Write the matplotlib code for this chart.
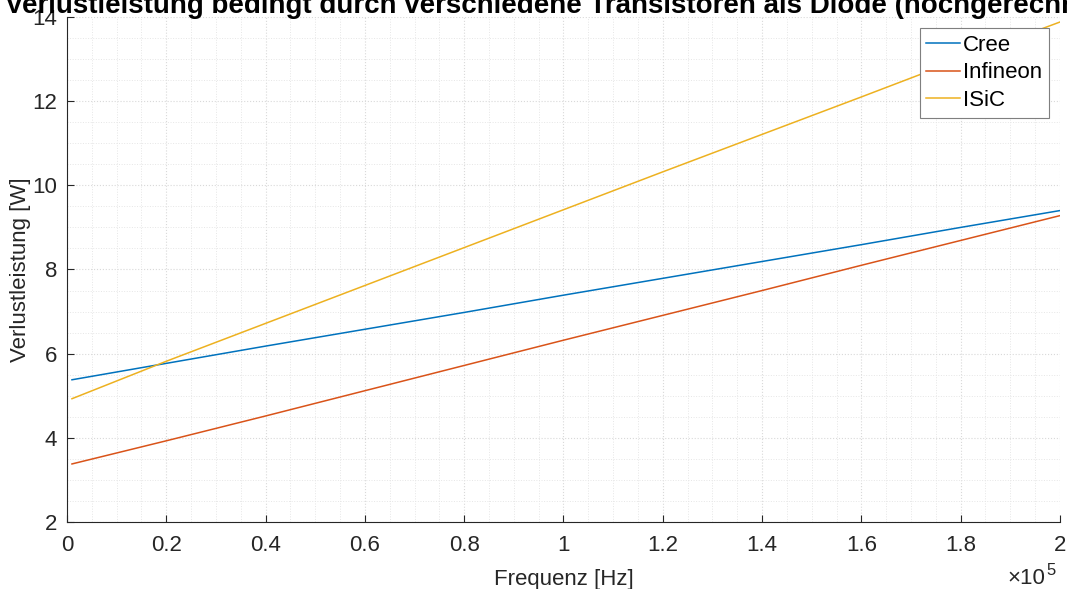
# Verlustleistung vs. Frequenz - MATLAB-style line chart
import matplotlib
matplotlib.use("Agg")
import matplotlib.pyplot as plt
from matplotlib.ticker import MultipleLocator, FuncFormatter

plt.rcParams['font.family'] = ['Liberation Sans', 'DejaVu Sans']

# -- DATA -------------------------------------------------------------------------
freq_hz = [1000, 20000, 40000, 60000, 80000, 100000, 120000, 140000, 160000, 180000, 200000]
cree = [5.38, 5.77, 6.18, 6.58, 6.98, 7.39, 7.79, 8.19, 8.59, 9.00, 9.40]
infineon = [3.38, 3.93, 4.52, 5.12, 5.72, 6.32, 6.91, 7.50, 8.10, 8.69, 9.28]
isic = [4.93, 5.82, 6.72, 7.62, 8.52, 9.42, 10.32, 11.21, 12.10, 13.00, 13.88]
series_names = ['Cree', 'Infineon', 'ISiC']
colors = ['#0072BD', '#D95319', '#EDB120']

title = 'Verlustleistung bedingt durch verschiedene Transistoren als Diode (hochgerechnet)'

# -- FIGURE -----------------------------------------------------------------------
fig = plt.figure(figsize=(10.67, 5.89), dpi=100)
ax = fig.add_axes([0.0628, 0.1137, 0.9306, 0.8575])

for vals, name, c in zip([cree, infineon, isic], series_names, colors):
    ax.plot(freq_hz, vals, color=c, lw=1.1, label=name)

ax.set_xlim(0, 2e5)
ax.set_ylim(2, 14)
ax.xaxis.set_major_locator(MultipleLocator(2e4))
ax.xaxis.set_minor_locator(MultipleLocator(5e3))
ax.yaxis.set_major_locator(MultipleLocator(2))
ax.yaxis.set_minor_locator(MultipleLocator(0.5))
ax.xaxis.set_major_formatter(FuncFormatter(lambda v, p: '%g' % round(v / 1e5, 2)))

# grid like MATLAB (major + minor, dotted)
ax.grid(which='major', color='#d9d9d9', linestyle=':', lw=0.8)
ax.grid(which='minor', color='#e6e6e6', linestyle=':', lw=0.7)
ax.set_axisbelow(True)

for s in ['top', 'right']:
    ax.spines[s].set_visible(False)
for s in ['left', 'bottom']:
    ax.spines[s].set_color('#262626')
    ax.spines[s].set_linewidth(0.8)
ax.tick_params(which='major', direction='in', length=5, width=0.8, colors='#262626',
               labelsize=16, labelcolor='#262626')
ax.tick_params(axis='x', which='major', pad=9)
ax.tick_params(axis='y', which='major', pad=7)
ax.tick_params(which='minor', length=0)

ax.set_xlabel('Frequenz [Hz]', fontsize=16, color='#262626', labelpad=10)
ax.set_ylabel('Verlustleistung [W]', fontsize=16, color='#262626', labelpad=1)

# exponent label bottom right, like MATLAB
fig.text(1045 / 1067, 0.5 / 589, '\u00d710', ha='right', va='bottom', fontsize=16, color='#262626')
fig.text(1046 / 1067, 11 / 589, '5', ha='left', va='bottom', fontsize=12, color='#262626')

ax.text(0.495, 1.008, title, transform=ax.transAxes, ha='center', va='baseline',
        fontsize=20, fontweight='bold', color='black')

leg = ax.legend(loc='upper right', fontsize=16, frameon=True, fancybox=False,
                edgecolor='#7f7f7f', framealpha=1, handlelength=1.5, handletextpad=0.15,
                borderaxespad=0.5, labelspacing=0.3, borderpad=0.3)
leg.get_frame().set_linewidth(0.8)

fig.savefig('out.png', dpi=100)
